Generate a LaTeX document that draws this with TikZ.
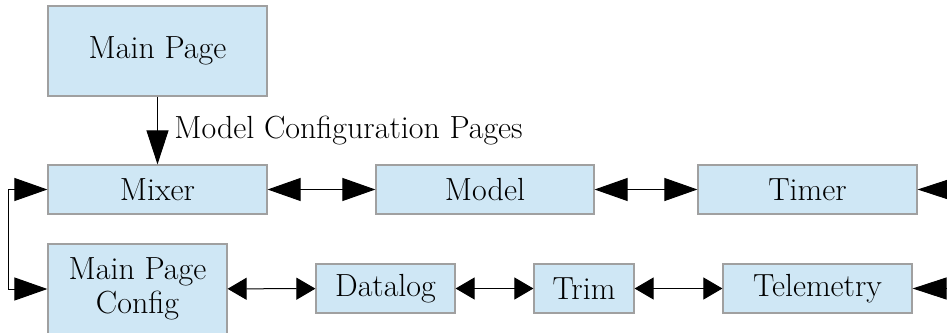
\documentclass[tikz,border=0pt]{standalone}
\usepackage{fontspec}
\usetikzlibrary{arrows.meta}
\definecolor{boxblue}{RGB}{207,231,245}
\definecolor{boxedge}{RGB}{160,160,160}
\begin{document}
\begin{tikzpicture}[x=1pt, y=-1pt,
    page/.style={draw=boxedge, line width=1.2pt, fill=boxblue, rectangle, inner sep=0pt, align=center, font=\fontsize{32}{34}\selectfont, minimum height=49pt},
    link/.style={draw=black, line width=1pt},
    bigtwo/.style={link, {Triangle[length=33pt,width=23pt]}-{Triangle[length=33pt,width=23pt]}},
    smalltwo/.style={link, {Triangle[length=19pt,width=22pt]}-{Triangle[length=19pt,width=22pt]}},
    bigone/.style={link, -{Triangle[length=34pt,width=22pt]}}]
    \clip (0,0) rectangle (947,332);

    % pages
    \node[page, minimum width=219pt, minimum height=90pt] (mainpage) at (157.5,51) {Main Page};
    \node[page, minimum width=219pt] (mixer) at (157.5,189.5) {Mixer};
    \node[page, minimum width=218pt] (model) at (485,189.5) {Model};
    \node[page, minimum width=219pt] (timer) at (807.5,189.5) {Timer};
    \node[page, minimum width=179pt, minimum height=90pt] (config) at (137.5,289) {Main Page\\Config};
    \node[page, minimum width=139pt] (datalog) at (385.5,288.5) {Datalog};
    \node[page, minimum width=100pt] (trim) at (584,288.5) {Trim};
    \node[page, minimum width=189pt] (telemetry) at (817.5,288.5) {Telemetry};

    % free ends on the right
    \coordinate (timerin) at (990,189.5);
    \coordinate (telein) at (990,288.5);

    \draw[bigone] (mainpage) -- node[right, xshift=13pt, font=\fontsize{32}{34}\selectfont] (mcp) {Model Configuration Pages} (mixer);

    \draw[bigtwo] (mixer) -- (model);
    \draw[bigtwo] (model) -- (timer);
    \draw[smalltwo] (config) -- (datalog);
    \draw[smalltwo] (datalog) -- (trim);
    \draw[smalltwo] (trim) -- (telemetry);

    \draw[bigtwo] (mixer.west) -- ++(-39,0) |- (config.west);
    \draw[bigone] (timerin) -- (timer.east);
    \draw[bigone] (telein) -- (telemetry.east);
\end{tikzpicture}
\end{document}
